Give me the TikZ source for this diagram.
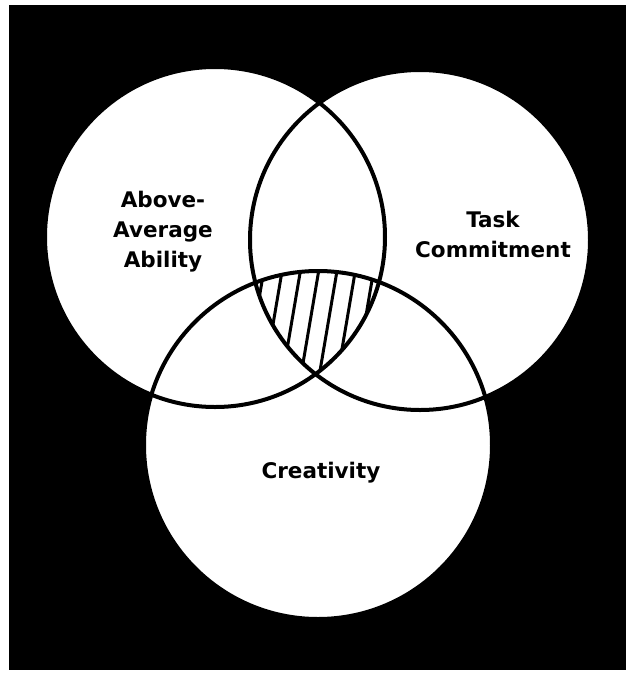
\documentclass[tikz,border=0pt]{standalone}
\usepackage{fontspec}
\setmainfont{DejaVu Sans}
\begin{document}
\begin{tikzpicture}[x=1pt,y=-1pt,
  ring/.style={draw=black,line width=4pt},
  hatchline/.style={draw=black,line width=3pt},
  lbl/.style={font=\fontsize{21.5}{30}\selectfont\bfseries,align=center,text=black,inner sep=0pt,anchor=base}]
\useasboundingbox (0,0) rectangle (632,681);
\fill[black] (9,5) rectangle (626,670);
\coordinate (cA) at (215,237);
\coordinate (cB) at (420,240);
\coordinate (cC) at (318,445);
\fill[white] (cA) circle[radius=170pt];
\fill[white] (cB) circle[radius=170pt];
\fill[white] (cC) circle[radius=174pt];
\begin{scope}
  \clip (cA) circle[radius=170pt];
  \clip (cB) circle[radius=170pt];
  \clip (cC) circle[radius=174pt];
  \foreach \k in {-5,...,5} {
    \pgfmathsetmacro{\xa}{318+18.3*\k+8.5}
    \pgfmathsetmacro{\xb}{318+18.3*\k-25.5}
    \coordinate (ha\k) at (\xa,225);
    \coordinate (hb\k) at (\xb,425);
    \draw[hatchline] (ha\k) -- (hb\k);
  }
\end{scope}
\draw[ring] (cA) circle[radius=170pt];
\draw[ring] (cB) circle[radius=170pt];
\draw[ring] (cC) circle[radius=174pt];
\node[lbl] (ability) at (163,267) {Above-\\Average\\Ability};
\node[lbl] (task) at (493,257) {Task\\Commitment};
\node[lbl] (creat) at (321,478) {Creativity};
\end{tikzpicture}
\end{document}
